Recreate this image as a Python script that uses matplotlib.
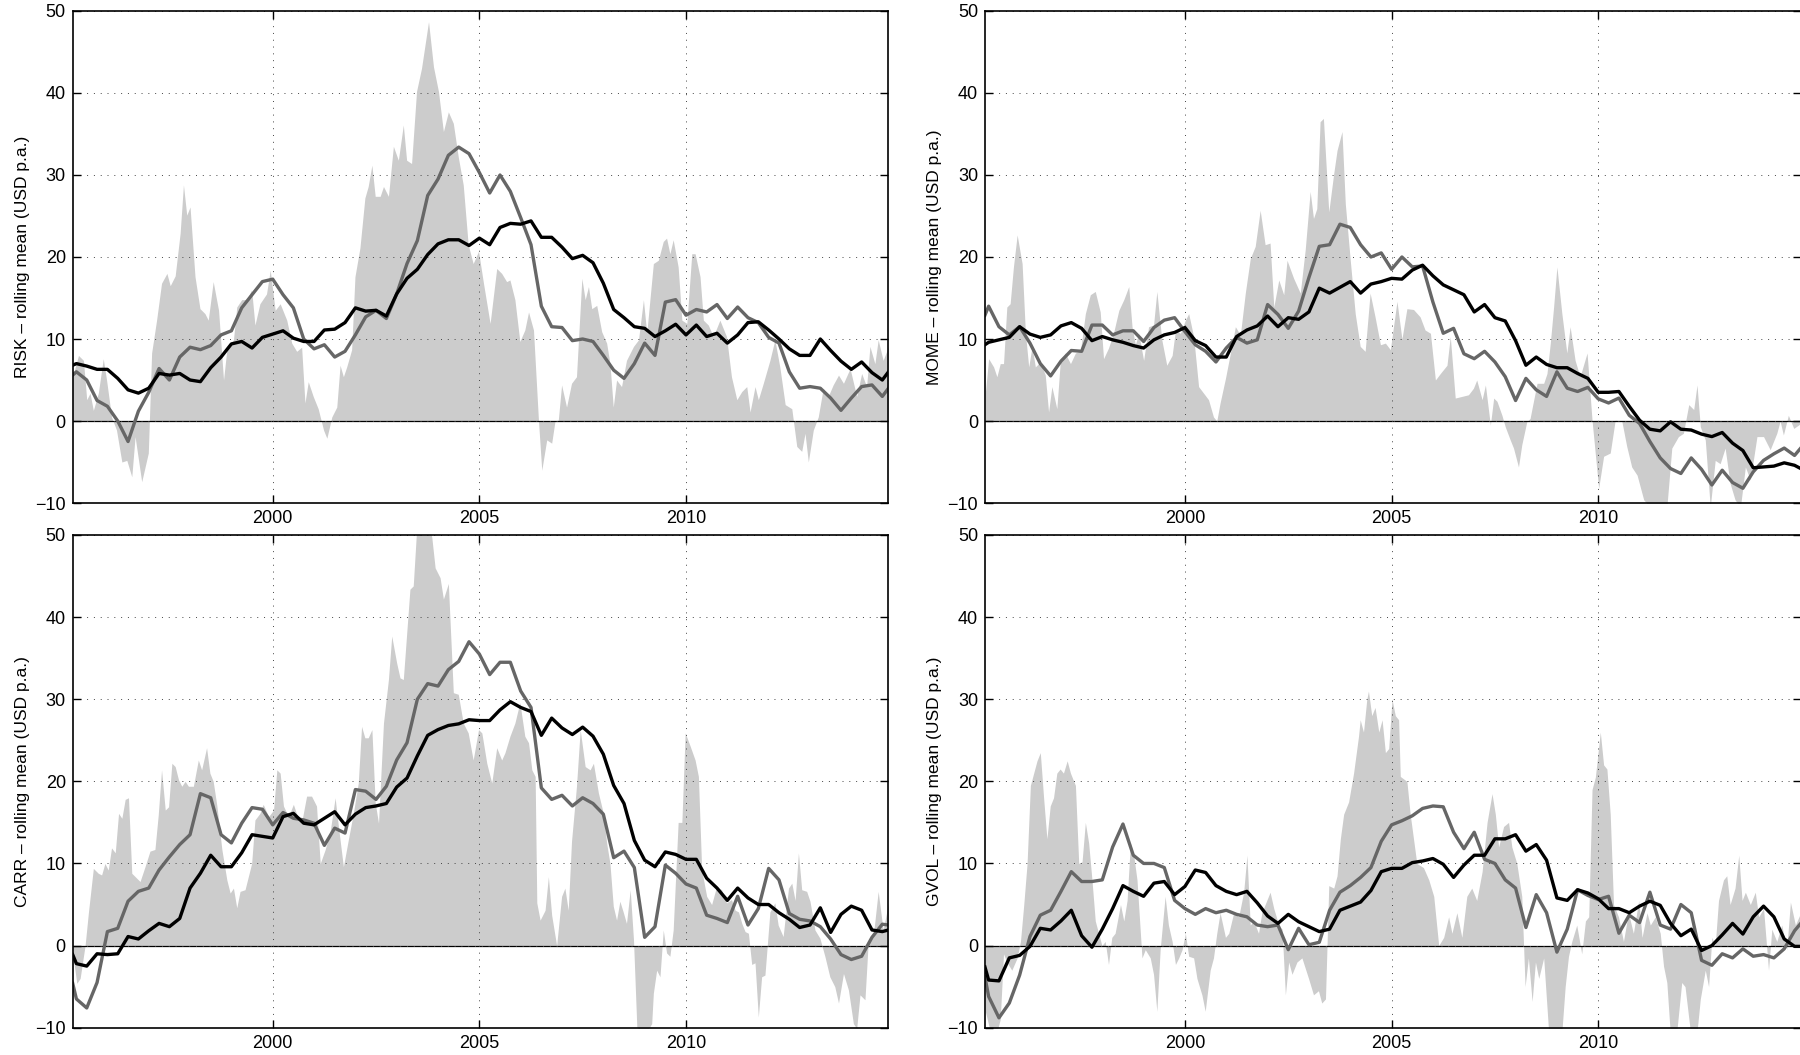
import numpy as np
import matplotlib
matplotlib.use("Agg")
from matplotlib import pyplot as plt
from matplotlib import font_manager

# quarterly sample dates for the two rolling-mean lines (plus the two end points)
t_line = [1995.16] + list(1995.25 + 0.25 * np.arange(79)) + [2014.9]

risk_long = [6.8,
    7.0, 6.7, 6.3, 6.3, 5.2, 3.8, 3.4, 4.0, 5.8, 5.6, 5.8, 5.0, 4.8, 6.5, 7.8, 9.4, 9.7, 8.9, 10.2,
    10.6, 11.0, 10.1, 9.7, 9.7, 11.1, 11.2, 12.0, 13.8, 13.4, 13.5, 12.8, 15.5, 17.4, 18.5, 20.3, 21.6, 22.1, 22.1, 21.4,
    22.3, 21.5, 23.6, 24.1, 24.0, 24.4, 22.4, 22.4, 21.2, 19.8, 20.2, 19.3, 16.8, 13.6, 12.6, 11.5, 11.3, 10.3, 11.0, 11.8,
    10.5, 11.7, 10.3, 10.7, 9.5, 10.5, 12.0, 12.1, 11.1, 10.0, 8.8, 8.0, 8.0, 10.0, 8.6, 7.3, 6.3, 7.2, 5.9, 5.0,
    6.0]
risk_mid = [5.6,
    6.0, 5.0, 2.5, 1.8, 0.0, -2.5, 1.2, 3.5, 6.4, 5.0, 7.8, 9.0, 8.7, 9.2, 10.5, 11.0, 13.8, 15.4, 17.0,
    17.3, 15.4, 13.8, 10.0, 8.8, 9.3, 7.8, 8.5, 10.5, 12.7, 13.5, 12.5, 15.5, 19.2, 22.0, 27.5, 29.5, 32.4, 33.4, 32.6,
    30.3, 27.8, 30.0, 28.0, 24.8, 21.5, 14.0, 11.5, 11.4, 9.8, 10.0, 9.7, 8.0, 6.2, 5.2, 7.0, 9.5, 8.0, 14.5, 14.8,
    12.9, 13.6, 13.3, 14.2, 12.5, 13.9, 12.6, 12.0, 10.2, 9.5, 6.0, 4.0, 4.2, 4.0, 2.8, 1.3, 2.8, 4.2, 4.4, 3.0,
    4.0]
risk_short = [
    (1995.16, 5.4), (1995.30, 8.0), (1995.42, 7.4), (1995.50, 2.6), (1995.58, 3.4), (1995.66, 1.3),
    (1995.78, 3.4), (1995.90, 7.6), (1995.98, 5.0), (1996.10, 0.5), (1996.22, -1.1), (1996.35, -5.0),
    (1996.47, -4.8), (1996.59, -6.8), (1996.67, -1.9), (1996.83, -7.4), (1996.99, -3.9), (1997.07, 8.3),
    (1997.19, 12.3), (1997.31, 16.8), (1997.44, 18.0), (1997.52, 16.5), (1997.64, 17.7), (1997.76, 22.9),
    (1997.84, 28.8), (1997.92, 25.1), (1998.00, 26.1), (1998.12, 17.6), (1998.24, 13.7), (1998.36, 13.1),
    (1998.44, 12.3), (1998.56, 17.0), (1998.69, 13.5), (1998.81, 5.0), (1998.89, 8.7), (1999.05, 9.9),
    (1999.13, 13.9), (1999.25, 14.8), (1999.37, 14.8), (1999.49, 16.0), (1999.57, 11.7), (1999.69, 14.3),
    (1999.85, 15.5), (1999.94, 18.4), (2000.06, 13.5), (2000.18, 14.3), (2000.34, 12.3), (2000.46, 9.5),
    (2000.58, 8.5), (2000.70, 9.0), (2000.78, 2.2), (2000.86, 4.8), (2000.98, 3.0), (2001.10, 1.5),
    (2001.23, -1.1), (2001.31, -2.1), (2001.43, 0.5), (2001.55, 1.7), (2001.63, 6.8), (2001.71, 5.4),
    (2001.79, 6.6), (2001.91, 8.7), (2001.99, 17.6), (2002.11, 21.1), (2002.23, 27.2), (2002.31, 28.6),
    (2002.40, 31.2), (2002.48, 27.4), (2002.60, 27.4), (2002.68, 28.6), (2002.80, 27.4), (2002.92, 33.5),
    (2003.04, 31.8), (2003.16, 36.1), (2003.24, 31.8), (2003.36, 31.4), (2003.48, 40.2), (2003.60, 43.0),
    (2003.77, 48.7), (2003.89, 43.2), (2004.01, 40.2), (2004.13, 35.3), (2004.25, 37.7), (2004.37, 36.3),
    (2004.49, 32.2), (2004.61, 28.8), (2004.73, 21.5), (2004.85, 19.2), (2004.98, 20.7), (2005.10, 16.8),
    (2005.26, 11.9), (2005.42, 18.6), (2005.54, 18.0), (2005.66, 17.0), (2005.74, 17.2), (2005.86, 14.8),
    (2005.98, 9.7), (2006.10, 11.1), (2006.19, 13.3), (2006.31, 11.1), (2006.43, 0.1), (2006.51, -6.0),
    (2006.63, -2.3), (2006.75, -2.7), (2006.83, 0.0), (2006.91, 0.1), (2006.99, 4.4), (2007.11, 1.7),
    (2007.23, 4.6), (2007.35, 5.4), (2007.48, 17.4), (2007.56, 14.8), (2007.64, 16.4), (2007.72, 13.7),
    (2007.84, 14.1), (2007.96, 10.9), (2008.08, 9.5), (2008.16, 7.0), (2008.24, 1.7), (2008.32, 5.0),
    (2008.44, 4.2), (2008.56, 7.4), (2008.73, 9.1), (2008.85, 9.9), (2008.97, 14.8), (2009.05, 10.7),
    (2009.21, 19.2), (2009.33, 19.6), (2009.45, 21.9), (2009.53, 22.3), (2009.61, 20.4), (2009.69, 22.1),
    (2009.81, 18.8), (2009.90, 12.3), (2010.02, 11.9), (2010.14, 20.4), (2010.22, 20.4), (2010.34, 17.6),
    (2010.42, 12.3), (2010.54, 11.7), (2010.66, 10.3), (2010.82, 12.3), (2010.98, 10.3), (2011.10, 5.4),
    (2011.23, 2.6), (2011.35, 3.6), (2011.47, 4.2), (2011.55, 1.1), (2011.67, 4.2), (2011.75, 2.6),
    (2011.87, 4.6), (2012.03, 7.4), (2012.15, 9.9), (2012.27, 6.6), (2012.40, 2.0), (2012.56, 1.5),
    (2012.68, -3.1), (2012.80, -3.7), (2012.88, -1.5), (2012.96, -5.0), (2013.08, -1.1), (2013.20, 0.5),
    (2013.32, 4.0), (2013.44, 3.0), (2013.56, 4.4), (2013.69, 5.6), (2013.81, 4.6), (2013.97, 6.4),
    (2014.13, 3.0), (2014.25, 5.8), (2014.37, 4.2), (2014.45, 9.1), (2014.57, 7.0), (2014.65, 9.9),
    (2014.77, 7.4), (2014.90, 9.1)]

mome_long = [9.3,
    9.6, 9.9, 10.2, 11.5, 10.6, 10.2, 10.5, 11.6, 12.0, 11.3, 9.8, 10.3, 9.9, 9.6, 9.2, 8.9, 9.9, 10.5, 10.8,
    11.4, 9.8, 9.2, 7.8, 7.8, 10.3, 11.1, 11.6, 12.8, 11.5, 12.6, 12.4, 13.3, 16.2, 15.6, 16.3, 17.0, 15.6, 16.7, 17.0,
    17.4, 17.3, 18.4, 19.0, 17.7, 16.6, 16.0, 15.4, 13.3, 14.2, 12.6, 12.2, 9.8, 6.8, 7.8, 6.9, 6.5, 6.5, 5.8, 5.2,
    3.5, 3.5, 3.6, 1.8, 0.1, -1.0, -1.2, -0.1, -1.0, -1.1, -1.6, -1.9, -1.4, -2.7, -3.6, -5.7, -5.6, -5.5, -5.1, -5.4,
    -5.8]
mome_mid = [12.9,
    14.0, 11.5, 10.5, 11.5, 9.5, 7.0, 5.5, 7.3, 8.6, 8.5, 11.7, 11.7, 10.5, 11.0, 11.0, 9.7, 11.4, 12.3, 12.6,
    10.9, 9.3, 8.5, 7.2, 8.9, 10.2, 9.5, 9.9, 14.2, 13.0, 11.3, 13.4, 17.5, 21.3, 21.5, 24.0, 23.6, 21.5, 20.0, 20.5,
    18.5, 20.0, 18.8, 18.9, 14.5, 10.7, 11.3, 8.2, 7.6, 8.5, 7.2, 5.4, 2.5, 5.2, 3.8, 3.0, 6.0, 4.0, 3.6, 4.1,
    2.7, 2.2, 2.8, 0.7, -0.3, -2.5, -4.5, -5.8, -6.4, -4.5, -5.9, -7.8, -6.0, -7.5, -8.2, -6.2, -4.8, -4.0, -3.3, -4.2,
    -3.3]
mome_short = [
    (1995.17, 3.4), (1995.25, 7.6), (1995.37, 6.6), (1995.45, 5.4), (1995.53, 7.0), (1995.61, 7.0),
    (1995.69, 13.9), (1995.77, 14.3), (1995.85, 18.8), (1995.94, 22.7), (1996.06, 19.2), (1996.14, 10.7),
    (1996.22, 6.6), (1996.30, 9.1), (1996.38, 6.6), (1996.50, 7.2), (1996.62, 5.6), (1996.70, 1.1),
    (1996.78, 4.2), (1996.90, 1.5), (1996.98, 7.0), (1997.10, 8.3), (1997.23, 7.0), (1997.35, 8.3),
    (1997.47, 8.5), (1997.59, 13.1), (1997.71, 15.4), (1997.83, 15.8), (1997.95, 13.3), (1998.03, 7.6),
    (1998.15, 8.9), (1998.27, 10.7), (1998.40, 13.5), (1998.52, 14.8), (1998.64, 16.4), (1998.72, 11.5),
    (1998.80, 9.3), (1998.88, 10.7), (1999.00, 7.4), (1999.12, 11.5), (1999.24, 11.7), (1999.32, 15.8),
    (1999.44, 9.9), (1999.56, 6.8), (1999.69, 8.0), (1999.77, 11.1), (1999.89, 10.7), (2000.01, 12.3),
    (2000.09, 13.1), (2000.21, 10.3), (2000.33, 4.2), (2000.45, 3.4), (2000.57, 2.6), (2000.69, 0.5),
    (2000.77, 0.0), (2000.85, 2.2), (2000.98, 5.2), (2001.10, 8.3), (2001.22, 11.5), (2001.34, 10.5),
    (2001.46, 15.6), (2001.58, 19.8), (2001.70, 21.3), (2001.82, 25.7), (2001.94, 21.5), (2002.06, 21.7),
    (2002.15, 13.9), (2002.27, 17.2), (2002.39, 15.4), (2002.47, 19.6), (2002.63, 17.4), (2002.79, 15.6),
    (2002.91, 20.9), (2003.03, 28.0), (2003.11, 24.7), (2003.19, 25.9), (2003.27, 36.5), (2003.35, 36.9),
    (2003.48, 25.5), (2003.60, 30.2), (2003.68, 33.0), (2003.80, 35.3), (2003.88, 26.5), (2004.00, 19.6),
    (2004.12, 13.1), (2004.24, 9.1), (2004.36, 8.5), (2004.48, 15.6), (2004.60, 12.7), (2004.73, 9.3),
    (2004.85, 9.5), (2004.97, 8.7), (2005.13, 14.6), (2005.25, 10.0), (2005.37, 13.7), (2005.53, 13.6),
    (2005.69, 12.7), (2005.81, 11.1), (2005.94, 10.7), (2006.06, 5.0), (2006.18, 5.8), (2006.34, 6.8),
    (2006.42, 10.3), (2006.54, 2.8), (2006.70, 3.0), (2006.86, 3.2), (2006.98, 4.0), (2007.06, 5.0),
    (2007.19, 2.6), (2007.27, 4.4), (2007.39, -0.5), (2007.47, 2.8), (2007.55, 2.4), (2007.67, 0.7),
    (2007.75, -0.7), (2007.87, -2.3), (2007.95, -3.3), (2008.07, -5.6), (2008.15, -2.9), (2008.27, -0.1),
    (2008.35, 0.3), (2008.44, 2.6), (2008.52, 4.6), (2008.68, 4.6), (2008.76, 5.8), (2008.84, 9.5),
    (2008.92, 13.9), (2009.00, 18.8), (2009.12, 13.1), (2009.24, 8.3), (2009.32, 11.5), (2009.44, 7.4),
    (2009.56, 5.4), (2009.73, 8.3), (2009.85, 0.1), (2010.01, -8.2), (2010.13, -4.3), (2010.29, -3.9),
    (2010.41, 0.1), (2010.57, 0.0), (2010.69, -3.1), (2010.81, -5.6), (2010.94, -6.6), (2011.10, -9.6),
    (2011.26, -10.5), (2011.46, -11.0), (2011.66, -10.5), (2011.78, -3.3), (2011.94, -1.9), (2012.06, -1.5),
    (2012.19, 2.0), (2012.31, 1.4), (2012.39, 4.4), (2012.47, -0.7), (2012.59, -2.3), (2012.71, -10.5),
    (2012.83, -4.8), (2012.95, -5.2), (2013.07, -3.3), (2013.19, -7.6), (2013.31, -9.6), (2013.44, -10.5),
    (2013.56, -5.6), (2013.68, -7.2), (2013.84, -1.9), (2014.00, -1.9), (2014.16, -3.5), (2014.32, -1.5),
    (2014.40, 0.0), (2014.48, -1.7), (2014.60, 0.7), (2014.73, -0.9), (2014.90, -0.3)]

carr_long = [-1.1,
    -2.2, -2.5, -1.0, -1.1, -1.0, 1.1, 0.8, 1.8, 2.7, 2.3, 3.3, 7.0, 8.8, 11.0, 9.6, 9.6, 11.3, 13.5, 13.3,
    13.1, 15.7, 16.1, 14.9, 14.7, 15.5, 16.3, 14.7, 16.0, 16.8, 17.0, 17.3, 19.3, 20.4, 23.1, 25.6, 26.3, 26.8, 27.0, 27.5,
    27.4, 27.4, 28.7, 29.7, 29.0, 28.5, 25.6, 27.7, 26.5, 25.7, 26.6, 25.5, 23.3, 19.5, 17.3, 12.8, 10.4, 9.6, 11.4, 11.1,
    10.5, 10.5, 8.2, 7.0, 5.5, 7.0, 5.8, 5.0, 5.0, 4.0, 3.2, 2.2, 2.5, 4.6, 1.6, 3.8, 4.8, 4.3, 1.9, 1.7,
    1.9]
carr_mid = [-4.6,
    -6.5, -7.6, -4.5, 1.7, 2.1, 5.4, 6.6, 7.0, 9.2, 10.8, 12.3, 13.5, 18.5, 18.0, 13.5, 12.5, 14.9, 16.8, 16.6,
    14.7, 16.2, 15.5, 15.3, 14.9, 12.2, 14.3, 13.7, 19.0, 18.8, 17.8, 19.4, 22.6, 24.7, 30.0, 31.9, 31.6, 33.6, 34.6, 37.0,
    35.5, 33.0, 34.5, 34.5, 31.0, 29.0, 19.2, 17.8, 18.3, 17.0, 18.0, 17.3, 16.0, 10.7, 11.5, 9.5, 1.0, 2.3, 9.8, 8.8,
    7.5, 7.0, 3.7, 3.3, 2.8, 6.0, 2.5, 4.5, 9.4, 8.0, 3.9, 3.2, 3.0, 2.3, 0.8, -1.1, -1.7, -1.3, 1.0, 2.6,
    2.5]
carr_short = [
    (1995.16, -1.0), (1995.26, -4.6), (1995.34, -4.0), (1995.46, 0.0), (1995.54, 4.0), (1995.66, 9.4),
    (1995.78, 8.8), (1995.86, 8.6), (1995.94, 10.0), (1996.02, 9.2), (1996.10, 11.9), (1996.19, 11.3),
    (1996.27, 16.1), (1996.35, 15.5), (1996.43, 17.8), (1996.51, 18.0), (1996.59, 8.8), (1996.71, 8.2),
    (1996.79, 7.8), (1996.91, 9.6), (1997.03, 11.5), (1997.15, 11.7), (1997.23, 15.9), (1997.31, 21.4),
    (1997.40, 16.5), (1997.48, 16.9), (1997.56, 22.2), (1997.64, 21.8), (1997.72, 20.2), (1997.80, 19.4),
    (1997.88, 20.0), (1997.96, 19.4), (1998.08, 19.4), (1998.20, 22.6), (1998.28, 21.4), (1998.40, 24.1),
    (1998.48, 21.0), (1998.56, 20.0), (1998.65, 17.0), (1998.77, 11.7), (1998.89, 8.0), (1998.97, 6.4),
    (1999.05, 7.0), (1999.13, 4.6), (1999.21, 6.6), (1999.33, 6.8), (1999.49, 10.0), (1999.57, 15.3),
    (1999.69, 16.1), (1999.77, 17.2), (1999.90, 15.7), (2000.02, 16.5), (2000.10, 21.4), (2000.18, 21.0),
    (2000.26, 17.0), (2000.38, 15.7), (2000.50, 17.2), (2000.62, 15.4), (2000.70, 15.0), (2000.82, 18.2),
    (2000.94, 18.2), (2001.06, 17.0), (2001.15, 10.0), (2001.27, 11.7), (2001.39, 13.9), (2001.51, 18.0),
    (2001.59, 14.5), (2001.71, 9.6), (2001.83, 12.9), (2001.95, 16.1), (2002.07, 19.8), (2002.15, 26.7),
    (2002.23, 25.3), (2002.31, 25.3), (2002.40, 26.3), (2002.48, 17.4), (2002.56, 14.9), (2002.68, 27.1),
    (2002.80, 32.4), (2002.88, 37.7), (2003.00, 34.4), (2003.08, 32.6), (2003.16, 32.4), (2003.32, 43.4),
    (2003.40, 43.8), (2003.48, 50.5), (2003.60, 52.0), (2003.77, 52.0), (2003.85, 49.7), (2003.93, 46.0),
    (2004.05, 44.8), (2004.13, 42.2), (2004.25, 44.1), (2004.37, 30.8), (2004.49, 30.6), (2004.61, 27.1),
    (2004.73, 25.9), (2004.85, 22.6), (2004.98, 26.3), (2005.06, 25.9), (2005.18, 22.2), (2005.30, 19.8),
    (2005.42, 24.1), (2005.54, 22.6), (2005.62, 23.5), (2005.74, 25.5), (2005.86, 27.1), (2005.98, 29.6),
    (2006.10, 25.5), (2006.19, 24.7), (2006.27, 21.4), (2006.35, 20.6), (2006.39, 5.2), (2006.47, 3.1),
    (2006.59, 4.3), (2006.67, 8.4), (2006.75, 3.7), (2006.87, 0.0), (2006.99, 6.0), (2007.07, 7.0),
    (2007.15, 4.3), (2007.23, 12.7), (2007.35, 19.4), (2007.44, 26.3), (2007.56, 21.8), (2007.68, 21.4),
    (2007.76, 22.2), (2007.88, 18.6), (2008.00, 16.1), (2008.08, 12.5), (2008.16, 10.0), (2008.24, 4.8),
    (2008.32, 3.1), (2008.40, 5.4), (2008.48, 4.1), (2008.56, 2.7), (2008.65, 6.8), (2008.73, 0.7),
    (2008.81, -9.9), (2008.93, -10.5), (2009.05, -10.5), (2009.17, -9.5), (2009.21, -5.8), (2009.29, -3.0),
    (2009.37, -3.8), (2009.45, 1.9), (2009.53, -0.9), (2009.61, -1.3), (2009.69, 1.9), (2009.81, 15.0),
    (2009.90, 15.0), (2009.98, 25.9), (2010.10, 24.3), (2010.22, 22.6), (2010.30, 20.6), (2010.38, 9.2),
    (2010.50, 6.0), (2010.62, 5.0), (2010.74, 7.2), (2010.86, 6.8), (2010.98, 5.2), (2011.10, 5.6),
    (2011.19, 4.3), (2011.27, 4.1), (2011.35, 2.7), (2011.43, 1.7), (2011.51, 1.5), (2011.59, -2.3),
    (2011.67, -2.1), (2011.75, -8.7), (2011.83, -3.8), (2011.91, -3.6), (2012.03, 4.1), (2012.15, 5.2),
    (2012.23, 2.5), (2012.35, 1.1), (2012.48, 7.0), (2012.56, 7.6), (2012.64, 5.5), (2012.72, 11.3),
    (2012.80, 6.8), (2012.92, 6.6), (2013.00, 5.4), (2013.12, 1.9), (2013.24, 0.9), (2013.36, -1.3),
    (2013.48, -3.8), (2013.60, -5.0), (2013.69, -7.0), (2013.81, -3.4), (2013.93, -5.4), (2014.05, -9.5),
    (2014.13, -10.1), (2014.21, -6.0), (2014.33, -6.6), (2014.41, 0.5), (2014.53, 1.1), (2014.65, 6.6),
    (2014.77, 1.9), (2014.90, 5.2)]

gvol_long = [-2.6,
    -4.2, -4.3, -1.5, -1.2, -0.1, 2.1, 1.9, 3.0, 4.3, 1.2, -0.2, 2.0, 4.5, 7.3, 6.6, 6.0, 7.6, 7.8, 6.2,
    7.2, 9.2, 8.9, 7.3, 6.6, 6.2, 6.6, 5.2, 3.6, 2.7, 3.8, 2.9, 2.3, 1.7, 2.0, 4.3, 4.8, 5.3, 6.7, 9.0,
    9.4, 9.4, 10.1, 10.3, 10.6, 9.9, 8.3, 9.8, 11.0, 11.0, 13.0, 13.0, 13.5, 11.5, 12.3, 10.4, 5.8, 5.5, 6.8, 6.4,
    5.7, 4.5, 4.5, 4.0, 4.8, 5.4, 4.9, 2.7, 1.2, 2.0, -0.6, 0.0, 1.3, 2.7, 1.4, 3.5, 4.8, 3.5, 0.8, -0.1,
    -0.1]
gvol_mid = [-3.8,
    -6.2, -8.8, -7.0, -3.6, 1.1, 3.7, 4.3, 6.6, 9.0, 7.8, 7.8, 8.0, 12.0, 14.8, 11.0, 10.0, 10.0, 9.5, 5.5,
    4.5, 3.8, 4.5, 4.0, 4.3, 3.8, 3.5, 2.5, 2.3, 2.5, -0.5, 2.1, 0.1, 0.4, 4.3, 6.5, 7.3, 8.3, 9.5, 12.7,
    14.7, 15.2, 15.8, 16.7, 17.0, 16.9, 13.8, 11.8, 13.8, 10.5, 10.0, 8.0, 7.0, 2.2, 6.2, 4.0, -0.8, 2.0, 6.8, 6.1,
    5.6, 6.0, 1.5, 3.7, 2.8, 6.5, 2.5, 2.0, 5.0, 4.0, -1.8, -2.4, -1.0, -1.5, -0.4, -1.3, -1.1, -1.5, -0.4, 1.8,
    2.7]
gvol_short = [
    (1995.17, -8.0), (1995.29, -10.5), (1995.45, -10.5), (1995.53, -9.0), (1995.61, -1.0), (1995.69, -2.0),
    (1995.81, -3.0), (1995.94, -1.5), (1996.02, 0.5), (1996.10, 5.0), (1996.18, 10.0), (1996.26, 19.5),
    (1996.34, 21.0), (1996.42, 22.5), (1996.50, 23.5), (1996.58, 18.0), (1996.66, 13.0), (1996.74, 17.0),
    (1996.82, 18.0), (1996.90, 21.0), (1996.98, 21.5), (1997.06, 21.0), (1997.15, 22.5), (1997.23, 21.0),
    (1997.35, 19.5), (1997.43, 10.0), (1997.51, 10.2), (1997.59, 15.0), (1997.67, 12.5), (1997.75, 8.0),
    (1997.83, 3.0), (1997.91, 1.5), (1997.99, 0.0), (1998.07, 0.5), (1998.15, -2.3), (1998.23, 1.0),
    (1998.31, 1.5), (1998.44, 5.0), (1998.52, 3.0), (1998.60, 5.5), (1998.68, 12.5), (1998.76, 11.0),
    (1998.84, 8.0), (1998.96, -1.5), (1999.04, -0.5), (1999.16, -1.5), (1999.24, -3.5), (1999.32, -8.0),
    (1999.40, -0.5), (1999.52, 6.0), (1999.60, 2.5), (1999.69, 0.5), (1999.77, -2.3), (1999.85, -1.5),
    (1999.93, -0.5), (2000.01, 1.5), (2000.09, -1.3), (2000.21, -1.5), (2000.29, -4.0), (2000.41, -6.0),
    (2000.49, -8.0), (2000.61, -3.0), (2000.69, -1.5), (2000.77, 1.5), (2000.85, 4.0), (2000.98, 1.0),
    (2001.06, 1.5), (2001.18, 4.0), (2001.30, 3.5), (2001.42, 6.5), (2001.50, 11.0), (2001.58, 2.5),
    (2001.66, 3.0), (2001.78, 1.5), (2001.86, 4.0), (2001.98, 5.5), (2002.06, 6.5), (2002.15, 4.5),
    (2002.27, 2.5), (2002.35, 2.0), (2002.43, -6.0), (2002.51, -2.0), (2002.59, -3.5), (2002.71, -2.0),
    (2002.83, -1.5), (2002.99, -4.0), (2003.11, -6.0), (2003.23, -5.5), (2003.31, -7.0), (2003.40, -6.5),
    (2003.48, 7.3), (2003.60, 7.0), (2003.68, 8.5), (2003.76, 13.0), (2003.84, 16.0), (2003.96, 17.5),
    (2004.08, 21.0), (2004.20, 25.5), (2004.24, 27.5), (2004.32, 26.0), (2004.40, 30.0), (2004.44, 31.0),
    (2004.52, 28.0), (2004.60, 29.0), (2004.69, 26.0), (2004.77, 27.5), (2004.85, 23.5), (2004.93, 24.0),
    (2005.01, 30.0), (2005.09, 28.0), (2005.17, 27.5), (2005.21, 20.6), (2005.37, 20.0), (2005.45, 16.0),
    (2005.61, 10.0), (2005.77, 9.5), (2005.90, 8.0), (2006.02, 6.0), (2006.14, 0.0), (2006.26, 1.0),
    (2006.38, 3.5), (2006.46, 1.5), (2006.58, 4.0), (2006.70, 1.0), (2006.82, 6.0), (2006.94, 7.0),
    (2007.06, 5.5), (2007.19, 9.0), (2007.31, 15.0), (2007.43, 18.5), (2007.51, 16.0), (2007.59, 12.0),
    (2007.71, 14.5), (2007.83, 15.0), (2007.91, 12.0), (2008.03, 10.0), (2008.15, 6.0), (2008.23, -5.0),
    (2008.31, -1.5), (2008.40, -6.8), (2008.48, -2.0), (2008.56, -4.0), (2008.68, -1.5), (2008.80, -10.5),
    (2008.96, -10.5), (2009.12, -10.5), (2009.20, -5.0), (2009.28, -1.3), (2009.36, 0.5), (2009.48, 2.5),
    (2009.60, -1.0), (2009.69, 3.0), (2009.77, 3.5), (2009.85, 19.0), (2009.93, 20.5), (2010.05, 26.0),
    (2010.13, 22.0), (2010.21, 21.5), (2010.29, 16.0), (2010.37, 5.0), (2010.49, 3.5), (2010.61, 0.5),
    (2010.73, 4.0), (2010.85, 1.5), (2010.98, 5.5), (2011.06, 1.0), (2011.18, 4.0), (2011.26, 2.5),
    (2011.38, 3.5), (2011.50, 1.5), (2011.58, -2.5), (2011.66, -4.5), (2011.74, -10.5), (2011.90, -10.5),
    (2012.02, -4.5), (2012.10, -5.0), (2012.23, -10.5), (2012.39, -10.5), (2012.47, -6.5), (2012.59, -3.0),
    (2012.67, -5.0), (2012.75, 1.0), (2012.83, 0.0), (2012.91, 5.5), (2013.03, 8.0), (2013.11, 8.5),
    (2013.19, 5.0), (2013.31, 7.0), (2013.40, 11.0), (2013.48, 5.5), (2013.56, 6.5), (2013.68, 5.0),
    (2013.80, 6.5), (2013.88, 3.5), (2014.00, 4.5), (2014.12, -3.0), (2014.20, 2.0), (2014.32, 0.5),
    (2014.44, 2.5), (2014.56, -0.5), (2014.65, 5.3), (2014.77, 2.5), (2014.90, 4.0)]

panels = [
    ("RISK", risk_short, risk_mid, risk_long),
    ("MOME", mome_short, mome_mid, mome_long),
    ("CARR", carr_short, carr_mid, carr_long),
    ("GVOL", gvol_short, gvol_mid, gvol_long),
]

names = {f.name for f in font_manager.fontManager.ttflist}
tick_font = "Liberation Sans Narrow" if "Liberation Sans Narrow" in names else "Liberation Sans"
label_font = "Liberation Sans"

fig = plt.figure(figsize=(18, 10.55), dpi=100)
boxes = [
    [0.0404, 0.5232, 0.4531, 0.4664],
    [0.5472, 0.5232, 0.4531, 0.4664],
    [0.0404, 0.0259, 0.4531, 0.4670],
    [0.5472, 0.0259, 0.4531, 0.4670],
]

for box, (name, short, mid, long_) in zip(boxes, panels):
    ax = fig.add_axes(box)
    st = [p[0] for p in short]
    sv = [p[1] for p in short]
    ax.fill_between(st, 0, sv, color="#cccccc", linewidth=0, zorder=1)
    ax.axhline(0, color="black", lw=0.9, zorder=2)
    ax.plot(t_line, mid, color="#666666", lw=2.4, zorder=4, solid_joinstyle="round")
    ax.plot(t_line, long_, color="black", lw=2.4, zorder=5, solid_joinstyle="round")

    ax.set_xlim(1995.161, 2014.895)
    ax.set_ylim(-10, 50)
    ax.set_xticks([2000, 2005, 2010])
    ax.set_yticks(range(-10, 51, 10))
    ax.grid(True, linestyle=(0, (1, 6)), color="#444444", lw=0.7, zorder=3)
    ax.set_axisbelow(False)
    ax.tick_params(direction="in", top=True, right=True, length=5.5, width=1.0,
                   labelsize=13, pad=5)
    for lab in ax.get_xticklabels() + ax.get_yticklabels():
        lab.set_fontfamily(tick_font)
    for sp in ax.spines.values():
        sp.set_linewidth(1.2)
        sp.set_zorder(6)
    ax.set_ylabel(name + " \u2013 rolling mean (USD p.a.)", fontsize=12.5,
                  fontfamily=label_font, va="center")
    ax.yaxis.set_label_coords(-0.062, 0.5)

fig.savefig("out.png", dpi=100)
